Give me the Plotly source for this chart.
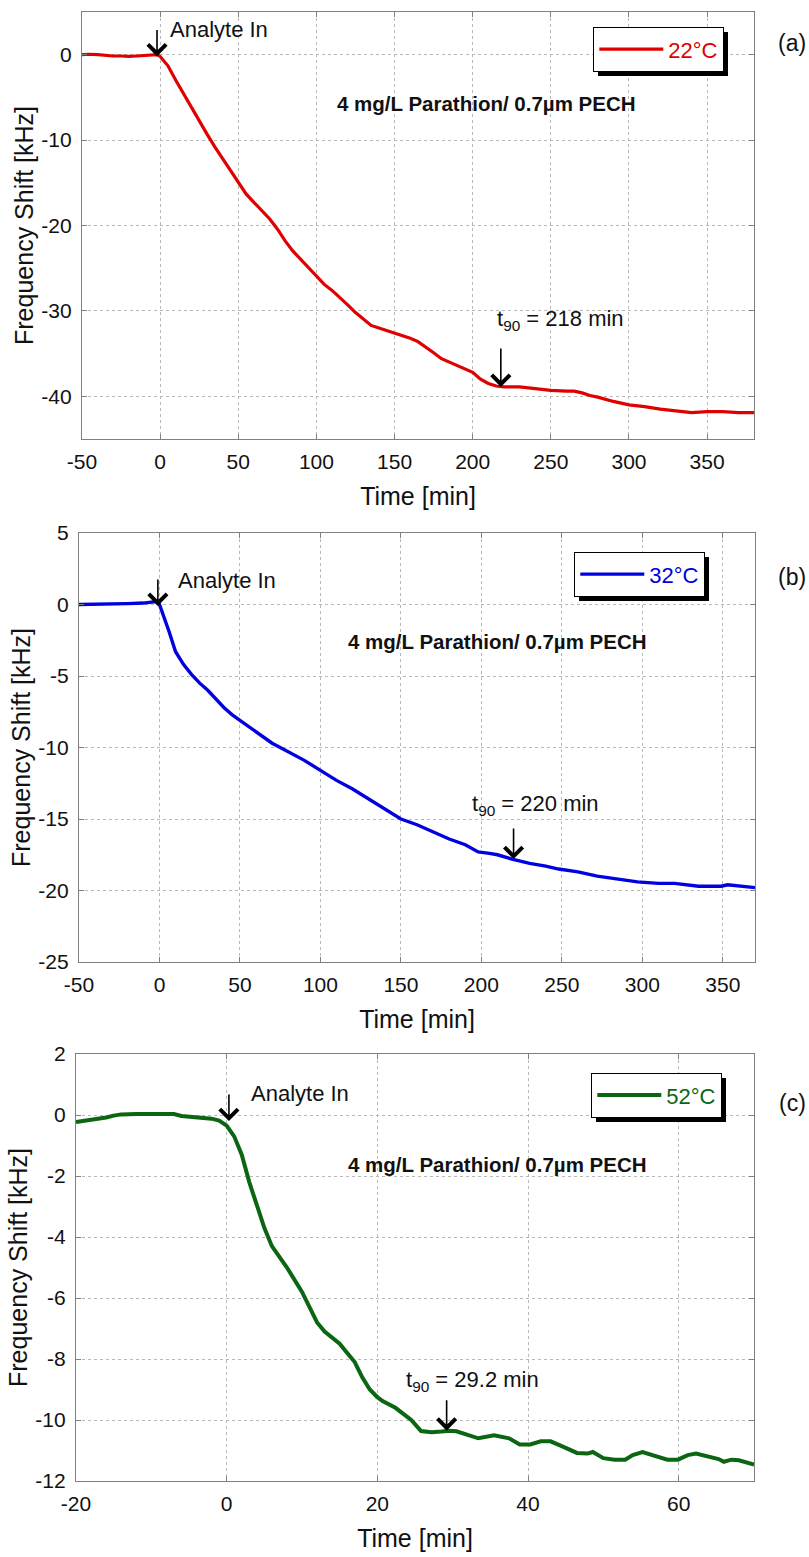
import plotly.graph_objects as go

W, H = 809, 1557
FONT = "Liberation Sans, Arial, sans-serif"

# ---- 22 °C run ----
t_22 = [-50, -45, -40, -35, -30, -25, -20, -15, -10, -5, -2, 0, 2, 5, 10, 15, 20, 25, 30, 35,
        40, 45, 50, 55, 60, 65, 70, 75, 80, 85, 90, 95, 100, 105, 110, 115, 120, 125, 130, 135,
        140, 145, 150, 155, 160, 165, 170, 175, 180, 185, 190, 195, 200, 205, 210, 215, 220, 225,
        230, 240, 250, 260, 265, 270, 275, 280, 290, 300, 310, 320, 330, 340, 350, 360, 370, 380]
f_22 = [0.0, 0.05, 0.0, -0.1, -0.15, -0.15, -0.2, -0.15, -0.1, -0.05, 0.0, -0.2, -0.7, -1.3,
        -3.0, -4.6, -6.2, -7.8, -9.3, -10.8, -12.2, -13.6, -15.0, -16.3, -17.3, -18.2, -19.2,
        -20.4, -21.8, -23.0, -24.0, -25.0, -26.0, -26.9, -27.6, -28.4, -29.3, -30.2, -31.0,
        -31.7, -32.0, -32.3, -32.6, -32.9, -33.2, -33.6, -34.2, -34.9, -35.6, -36.0, -36.3,
        -36.7, -37.2, -38.0, -38.5, -38.8, -38.9, -38.9, -38.9, -39.1, -39.3, -39.4, -39.4,
        -39.6, -39.9, -40.1, -40.6, -41.0, -41.2, -41.5, -41.7, -41.9, -41.8, -41.8, -41.9, -41.9]

# ---- 32 °C run ----
t_32 = [-50, -40, -30, -20, -10, -5, -2, 0, 3, 6, 10, 15, 20, 25, 30, 35, 40, 45, 50, 55,
        60, 65, 70, 75, 80, 90, 100, 110, 120, 130, 140, 150, 160, 170, 180, 190, 198, 205,
        210, 219, 230, 240, 248, 260, 272, 285, 297, 310, 320, 335, 349, 353, 360, 370]
f_32 = [0.0, 0.02, 0.0, 0.06, 0.1, 0.15, 0.2, 0.0, -0.9, -1.9, -3.3, -4.2, -4.9, -5.5, -6.0,
        -6.6, -7.2, -7.7, -8.1, -8.5, -8.9, -9.3, -9.7, -10.0, -10.3, -10.9, -11.6, -12.3,
        -12.9, -13.6, -14.3, -15.0, -15.4, -15.9, -16.4, -16.8, -17.3, -17.4, -17.5, -17.8,
        -18.1, -18.3, -18.5, -18.7, -19.0, -19.2, -19.4, -19.5, -19.5, -19.7, -19.7, -19.6,
        -19.7, -19.8]

# ---- 52 °C run ----
t_52 = [-20, -18, -16, -15, -14, -12, -10, -8, -7, -6, -4, -2, -1, 0, 1, 2, 3, 4, 5, 6, 8, 10,
        11, 12, 13, 14, 15, 16, 17, 18, 19, 20, 20.7, 22.4, 24.5, 25.8, 27.2, 28.5, 29.6, 30.5,
        32, 33.4, 35.5, 37.5, 38.9, 40.3, 41.7, 43, 44.4, 46.5, 47.9, 48.6, 50, 51.5, 52.9,
        53.9, 55.2, 56.6, 58.5, 59.9, 61.2, 62.3, 63.6, 65.3, 66, 67, 68, 70]
f_52 = [-0.23, -0.17, -0.08, -0.02, 0.02, 0.03, 0.02, 0.03, 0.03, -0.03, -0.07, -0.12, -0.18,
        -0.35, -0.7, -1.3, -2.2, -3.0, -3.7, -4.3, -5.0, -5.8, -6.3, -6.8, -7.1, -7.3, -7.5,
        -7.8, -8.1, -8.6, -9.0, -9.25, -9.38, -9.6, -10.0, -10.36, -10.4, -10.38, -10.35,
        -10.37, -10.5, -10.6, -10.5, -10.6, -10.8, -10.8, -10.7, -10.7, -10.85, -11.08, -11.1,
        -11.05, -11.25, -11.3, -11.3, -11.15, -11.05, -11.15, -11.3, -11.3, -11.15, -11.1,
        -11.18, -11.28, -11.37, -11.3, -11.32, -11.46]

# t90 markers (time, label)
t90 = [218, 220, 29.2]
t90_text = ["218 min", "220 min", "29.2 min"]
labels = ["22°C", "32°C", "52°C"]
colors = ["#e00000", "#0000e0", "#0b6614"]
widths = [3.2, 3.4, 4.0]
subtitle = "4 mg/L Parathion/ 0.7µm PECH"

# axis ranges and tick values per panel
x_ranges = [[-50, 380], [-50, 370], [-20, 70]]
y_ranges = [[-45, 5], [-25, 5], [-12, 2]]
x_ticks = [[-50, 0, 50, 100, 150, 200, 250, 300, 350],
           [-50, 0, 50, 100, 150, 200, 250, 300, 350],
           [-20, 0, 20, 40, 60]]
y_ticks = [[-40, -30, -20, -10, 0],
           [-25, -20, -15, -10, -5, 0, 5],
           [-12, -10, -8, -6, -4, -2, 0, 2]]


def tick_text(vals):
    return [str(v) for v in vals]


def px(p):
    return p / W


def py(p):
    return 1 - p / H


# plot-area boxes in pixels: left, right, top, bottom
boxes = [(82, 754, 12, 439), (79, 755, 533, 962), (76, 754, 1054, 1481)]

fig = go.Figure()
series = [(t_22, f_22), (t_32, f_32), (t_52, f_52)]
legend_names = ["legend", "legend2", "legend3"]

for i, (t, f) in enumerate(series):
    sfx = "" if i == 0 else str(i + 1)
    fig.add_trace(go.Scatter(
        x=t, y=f, mode="lines", name=labels[i],
        line=dict(color=colors[i], width=widths[i]),
        xaxis="x" + sfx, yaxis="y" + sfx, legend=legend_names[i],
        showlegend=True,
    ))

axis_common = dict(
    showline=True, linecolor="#808080", linewidth=1.2, mirror="ticks",
    ticks="inside", ticklen=5, tickcolor="#808080", tickwidth=1,
    showgrid=True, gridcolor="#b8b8b8", griddash="dot", gridwidth=1,
    zeroline=False, automargin=False,
    tickfont=dict(family=FONT, size=21, color="#111"),
)

layout = dict(
    width=W, height=H, margin=dict(l=0, r=0, t=0, b=0),
    paper_bgcolor="white", plot_bgcolor="white",
    font=dict(family=FONT, color="#111"),
)

annotations = []
shapes = []
legend_boxes = [(593, 27), (574, 552), (591, 1073)]
LEG_W, LEG_H = 130, 44
panel_tags = ["(a)", "(b)", "(c)"]
tag_y = [43, 577, 1103]
sub_y = [103, 641, 1164]
sub_x = [486, 497, 497]
analyte_txt = [(5, 2.9), (10.5, 1.7), (3, 0.69)]
analyte_tip = [(-2, -0.2), (-1, -0.1), (0.3, -0.2)]
t90_tip_y = [-38.9, -17.8, -10.35]
t90_txt = [(214, -31.1), (193, -14.05), (23.6, -8.72)]

for i in range(3):
    sfx = "" if i == 0 else str(i + 1)
    l, r, t, b = boxes[i]
    layout["xaxis" + sfx] = dict(
        axis_common, domain=[px(l), px(r)], range=x_ranges[i],
        tickvals=x_ticks[i], ticktext=tick_text(x_ticks[i]),
        anchor="y" + sfx, ticklabelstandoff=4,
        title=dict(text="Time [min]", font=dict(family=FONT, size=25, color="#111"),
                   standoff=15),
    )
    layout["yaxis" + sfx] = dict(
        axis_common, domain=[py(b), py(t)], range=y_ranges[i],
        tickvals=y_ticks[i], ticktext=tick_text(y_ticks[i]),
        anchor="x" + sfx, ticklabelstandoff=5,
        title=dict(text="Frequency Shift [kHz]", font=dict(family=FONT, size=25, color="#111"),
                   standoff=0),
    )
    lx, ly = legend_boxes[i]
    layout[legend_names[i]] = dict(
        x=px(lx), y=py(ly), xanchor="left", yanchor="top",
        bgcolor="white", bordercolor="black", borderwidth=1.3,
        font=dict(family=FONT, size=22, color=colors[i]),
        itemwidth=64, tracegroupgap=0,
    )
    # drop shadow behind the legend box
    shapes.append(dict(type="rect", xref="paper", yref="paper",
                       x0=px(lx + 5), x1=px(lx + LEG_W + 5), y0=py(ly + LEG_H + 5),
                       y1=py(ly + 5), fillcolor="black", line=dict(width=0), layer="above"))

    annotations.append(dict(xref="paper", yref="paper", x=px(808), y=py(tag_y[i]),
                            xanchor="right", yanchor="middle", text=panel_tags[i],
                            showarrow=False, font=dict(family=FONT, size=23, color="#111")))
    annotations.append(dict(xref="paper", yref="paper", x=px(sub_x[i]), y=py(sub_y[i]),
                            xanchor="center", yanchor="middle", text="<b>" + subtitle + "</b>",
                            showarrow=False, font=dict(family=FONT, size=20.5, color="#111")))
    # analyte-in marker
    ax_, ay_ = analyte_tip[i]
    annotations.append(dict(xref="x" + sfx, yref="y" + sfx, x=ax_, y=ay_, text="",
                            showarrow=True, ax=0, ay=-28, arrowhead=4, arrowsize=2.2,
                            arrowwidth=1.6, arrowcolor="black"))
    tx, ty = analyte_txt[i]
    annotations.append(dict(xref="x" + sfx, yref="y" + sfx, x=tx, y=ty, text="Analyte In",
                            xanchor="left", yanchor="middle", showarrow=False,
                            font=dict(family=FONT, size=22, color="#111")))
    # t90 marker
    annotations.append(dict(xref="x" + sfx, yref="y" + sfx, x=t90[i], y=t90_tip_y[i], text="",
                            showarrow=True, ax=0, ay=-40 if i == 0 else -32, arrowhead=4,
                            arrowsize=2.2, arrowwidth=1.6, arrowcolor="black"))
    tx, ty = t90_txt[i]
    annotations.append(dict(xref="x" + sfx, yref="y" + sfx, x=tx, y=ty,
                            text="t<sub>90</sub> = " + t90_text[i],
                            xanchor="left", yanchor="middle", showarrow=False,
                            font=dict(family=FONT, size=22, color="#111")))

layout["annotations"] = annotations
layout["shapes"] = shapes
fig.update_layout(**layout)
fig.write_html("out.html")
